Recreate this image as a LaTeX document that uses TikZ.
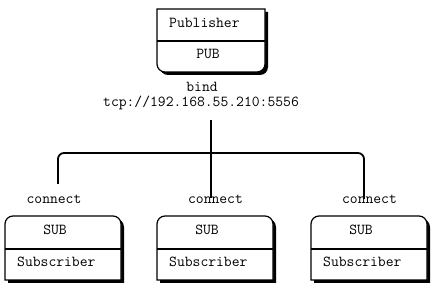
\documentclass[tikz,border=0pt]{standalone}
\usepackage{fontspec}
\usetikzlibrary{positioning}

\begin{document}
\begin{tikzpicture}[x=1pt, y=-1pt,
    lbl/.style={font=\ttfamily\fontsize{15.2}{17}\selectfont, inner sep=0pt},
    boxline/.style={line width=1.2pt, fill=white},
    shade/.style={fill=black},
    wire/.style={line width=1.8pt, rounded corners=6},
]
    \useasboundingbox (0,0) rectangle (432,304);

    % Publisher box (round at the bottom)
    \fill[shade, shift={(3,3)}] (157,9) [rounded corners=8] -- (157,72) -- (265,72) [sharp corners] -- (265,9) -- cycle;
    \draw[boxline] (157,9) [rounded corners=8] -- (157,72) -- (265,72) [sharp corners] -- (265,9) -- cycle;
    \draw[line width=1.2pt] (157,41) -- (265,41);
    \node[lbl, anchor=mid west] (pubname) at (169,25) {Publisher};
    \node[lbl, anchor=mid] (pubtype) at (208,56.5) {PUB};

    % Subscriber boxes (round at the top)
    \foreach \bx/\nm in {5/left, 157/mid, 311/right} {
        \fill[shade, shift={(3,3)}] (\bx,280) [rounded corners=8] -- (\bx,216) -- (\bx+116,216) [sharp corners] -- (\bx+116,280) -- cycle;
        \draw[boxline] (\bx,280) [rounded corners=8] -- (\bx,216) -- (\bx+116,216) [sharp corners] -- (\bx+116,280) -- cycle;
        \draw[line width=1.2pt] (\bx,249) -- (\bx+116,249);
        \node[lbl, anchor=mid] (subtype\nm) at (\bx+50,232.5) {SUB};
        \node[lbl, anchor=mid west] (subname\nm) at (\bx+12,264.5) {Subscriber};
    }

    % Labels
    \node[lbl, anchor=mid] (bind) at (202,89) {bind};
    \node[lbl, anchor=mid] (endpoint) at (201,104) {tcp://192.168.55.210:5556};
    \node[lbl, anchor=mid] (connleft) at (54,201) {connect};
    \node[lbl, anchor=mid] (connmid) at (215.5,201) {connect};
    \node[lbl, anchor=mid] (connright) at (369.5,201) {connect};

    % Wires
    \coordinate (bindpt) at (211,120);
    \coordinate (hub) at (211,153);
    \coordinate (endleft) at (58,184);
    \coordinate (endmid) at (211,198);
    \coordinate (endright) at (364,199);
    \draw[wire] (bindpt) -- (endmid);
    \draw[wire] (endleft) |- (hub) -| (endright);
\end{tikzpicture}
\end{document}
